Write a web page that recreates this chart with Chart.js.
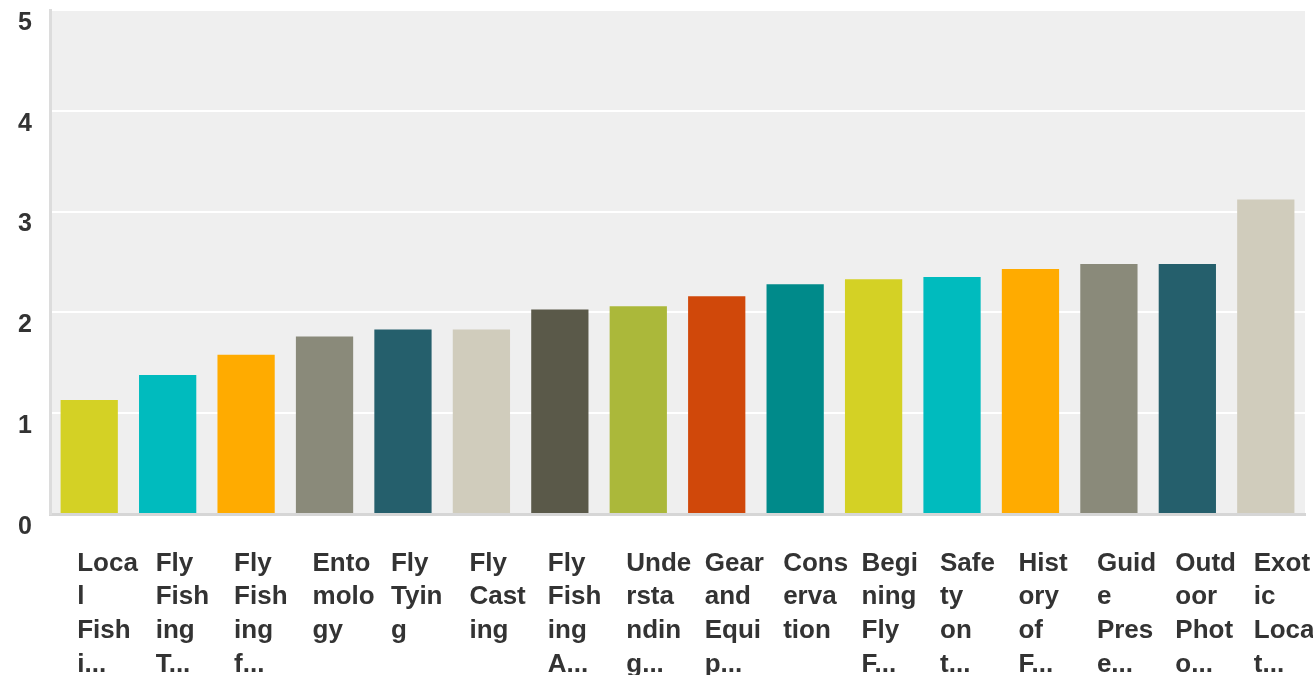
<!DOCTYPE html>
<html>
<head>
<meta charset="utf-8">
<script src="https://cdn.jsdelivr.net/npm/chart.js@4"></script>
<style>
  html, body { margin: 0; padding: 0; background: #ffffff; }
  #wrap { width: 1313px; height: 675px; }
</style>
</head>
<body>
<div id="wrap"><canvas id="chart1"></canvas></div>
<script>
// labels as they appear (wrapped and cut off)
const tickLabels = [
  ["Loca", "l", "Fish", "i..."],
  ["Fly", "Fish", "ing", "T..."],
  ["Fly", "Fish", "ing", "f..."],
  ["Ento", "molo", "gy"],
  ["Fly", "Tyin", "g"],
  ["Fly", "Cast", "ing"],
  ["Fly", "Fish", "ing", "A..."],
  ["Unde", "rsta", "ndin", "g..."],
  ["Gear", "and", "Equi", "p..."],
  ["Cons", "erva", "tion"],
  ["Begi", "ning", "Fly", "F..."],
  ["Safe", "ty", "on", "t..."],
  ["Hist", "ory", "of", "F..."],
  ["Guid", "e", "Pres", "e..."],
  ["Outd", "oor", "Phot", "o..."],
  ["Exot", "ic", "Loca", "t..."]
];

const scores = [1.13, 1.38, 1.58, 1.76, 1.83, 1.83, 2.03, 2.06, 2.16, 2.28, 2.33, 2.35, 2.43, 2.48, 2.48, 3.12];

const barColors = [
  "#d4d125", "#00bbbe", "#ffab00", "#8a8a7a", "#255f6c", "#d0ccbc",
  "#5a5949", "#abb83a", "#d0480a", "#008a8a", "#d4d125", "#00bbbe",
  "#ffab00", "#8a8a7a", "#255f6c", "#d0ccbc"
];

const yMin = 0;
const yMax = 5;

// grauer Hintergrund im Plotbereich
const plotBg = {
  id: "plotBg",
  beforeDraw(chart) {
    const { ctx, chartArea } = chart;
    ctx.save();
    ctx.fillStyle = "#efefef";
    ctx.fillRect(chartArea.left, chartArea.top, chartArea.right - chartArea.left, chartArea.bottom - chartArea.top);
    ctx.restore();
  }
};

const ctx = document.getElementById("chart1").getContext("2d");
new Chart(ctx, {
  type: "bar",
  data: {
    labels: tickLabels,
    datasets: [{
      data: scores,
      backgroundColor: barColors,
      borderWidth: 0,
      barPercentage: 0.73,
      categoryPercentage: 1.0
    }]
  },
  options: {
    responsive: true,
    maintainAspectRatio: false,
    animation: false,
    layout: { padding: { top: 10, right: 8, left: 0, bottom: 0 } },
    plugins: {
      legend: { display: false },
      tooltip: { enabled: false }
    },
    scales: {
      x: {
        grid: { display: false },
        border: { display: true, color: "#d6d6d6", width: 3 },
        ticks: {
          autoSkip: false,
          maxRotation: 0,
          minRotation: 0,
          align: "start",
          labelOffset: -12,
          padding: 25,
          color: "#333333",
          font: { family: "'Liberation Sans', Arial, sans-serif", size: 26, weight: "bold", lineHeight: 1.29 }
        },
        afterFit(scale) {
          scale.height = 161;
          scale.paddingLeft = 0;
          scale.paddingRight = 0;
        }
      },
      y: {
        min: yMin,
        max: yMax,
        grid: { color: "#ffffff", lineWidth: 2, drawTicks: false },
        border: { display: true, color: "#dcdcdc", width: 3 },
        ticks: {
          stepSize: 1,
          padding: 18,
          labelOffset: 13,
          color: "#333333",
          font: { family: "'Liberation Sans', Arial, sans-serif", size: 25, weight: "bold" }
        },
        afterFit(scale) {
          scale.width = 50;
          scale.paddingTop = 0;
          scale.paddingBottom = 0;
        }
      }
    }
  },
  plugins: [plotBg]
});
</script>
</body>
</html>
